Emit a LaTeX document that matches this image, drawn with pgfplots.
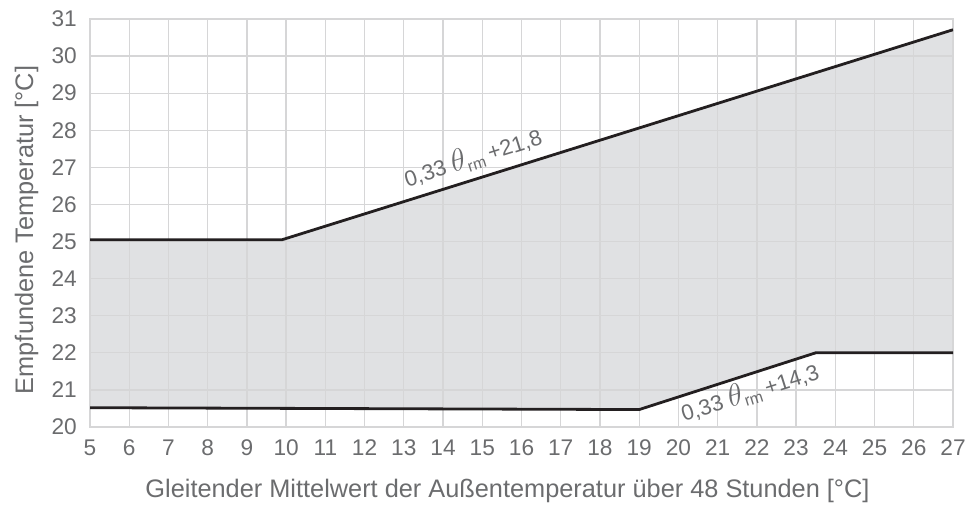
\documentclass[border=0pt]{standalone}
\usepackage{pgfplots}
\pgfplotsset{compat=1.18}
\usepackage{graphicx}
\usepackage{fontspec}
\setmainfont{Liberation Sans}
\definecolor{gridc}{HTML}{D6D6D7}
\definecolor{fillc}{HTML}{E0E1E3}
\definecolor{txt}{HTML}{6B6C6E}
\definecolor{lnc}{HTML}{231F20}
\newcommand{\thr}{\scalebox{1.35}{$\theta$}\raisebox{-3.5pt}{\fontsize{12}{12}\selectfont rm}\hspace{3.5pt}}
\begin{document}
\begin{tikzpicture}
\begin{axis}[
  set layers,
  scale only axis,
  width=647.25pt, height=306pt,
  xmin=5, xmax=27, ymin=20, ymax=31,
  xtick={5,6,...,27}, ytick={20,21,...,31},
  grid=major,
  major grid style={gridc, line width=1pt},
  axis line style={gridc, line width=1pt},
  major tick length=0pt,
  tick style={draw=none},
  /pgf/number format/assume math mode=true,
  ticklabel style={font=\fontsize{17}{19}\selectfont, text=txt, inner sep=0pt},
  xticklabel style={anchor=base, yshift=-21.75pt},
  yticklabel style={anchor=east, xshift=-9.75pt},
  xlabel={Gleitender Mittelwert der Außentemperatur über 48 Stunden [°C]},
  ylabel={Empfundene Temperatur [°C]},
  label style={text=txt, inner sep=0pt},
  xlabel style={font=\fontsize{19}{21}\selectfont, at={(axis description cs:0.4838,-0.1716)}, anchor=base},
  ylabel style={font=\fontsize{19}{21}\selectfont, at={(axis description cs:-0.066,0.483)}, anchor=base},
]
\addplot[on layer=axis background, fill=fillc, draw=none] coordinates {
  (5,25.05) (9.9,25.05) (27,30.71) (27,22.0) (23.5,22.0) (19,20.47) (5,20.52)
} -- cycle;
\addplot[lnc, line width=2.1pt] coordinates {(5,25.05) (9.9,25.05) (27,30.71)};
\addplot[lnc, line width=2.1pt] coordinates {(5,20.52) (19,20.47) (23.5,22.0) (27,22.0)};
\node[rotate=17.6, text=txt, font=\fontsize{16.5}{18}\selectfont, inner sep=0pt] at (axis cs:14.76,27.27) {0,33 \thr+21,8};
\node[rotate=17.6, text=txt, font=\fontsize{16.5}{18}\selectfont, inner sep=0pt] at (axis cs:21.82,20.94) {0,33 \thr+14,3};
\end{axis}
\pgfresetboundingbox
\useasboundingbox (-67.5pt,-58.5pt) rectangle (657pt,320.25pt);
\end{tikzpicture}
\end{document}
